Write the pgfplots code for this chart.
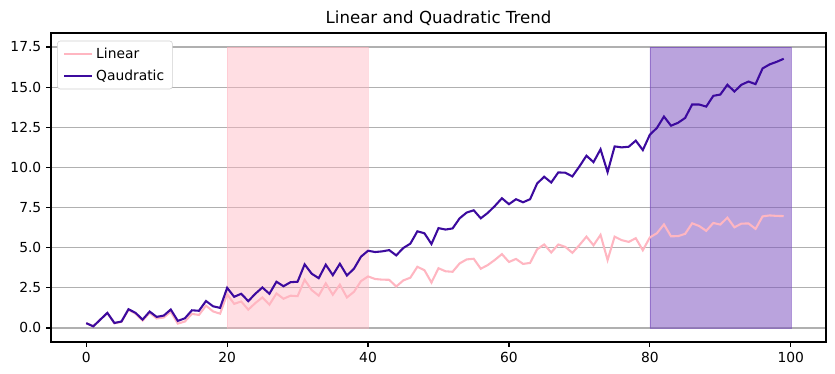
\documentclass[border=0pt]{standalone}
\usepackage{fontspec}
\setmainfont{DejaVu Sans}
\usepackage{pgfplots}
\pgfplotsset{compat=1.18}
\definecolor{linpink}{HTML}{FFB6C1}
\definecolor{quadpurple}{HTML}{3C0A9E}
\definecolor{spanpink}{HTML}{FFB6C1}
\definecolor{spanpurple}{HTML}{7A4FBE}
\definecolor{gridgray}{HTML}{B0B0B0}
\begin{document}
\begin{tikzpicture}
\begin{axis}[
  scale only axis,
  width=7.75in, height=3.09in,
  xmin=-5, xmax=105,
  ymin=-0.875, ymax=18.375,
  xtick={0,20,40,60,80,100},
  ytick={0,2.5,5,7.5,10,12.5,15,17.5},
  yticklabel style={/pgf/number format/.cd,fixed,fixed zerofill,precision=1},
  /pgf/number format/assume math mode=true,
  ymajorgrids,
  grid style={gridgray, line width=0.8pt},
  tick align=outside,
  tick pos=left,
  major tick length=3.5pt,
  tick style={black, line width=0.8pt},
  axis line style={line width=0.8pt},
  ticklabel style={font=\fontsize{10}{12}\selectfont},
  title={Linear and Quadratic Trend},
  title style={font=\fontsize{12}{14}\selectfont, yshift=-4pt},
  legend style={at={(0.008,0.975)}, anchor=north west, draw=gridgray!60, rounded corners=2pt,
    font=\fontsize{10}{12}\selectfont, inner xsep=4pt, inner ysep=3pt, row sep=2.5pt},
  legend image code/.code={\draw[#1] (0cm,0cm) -- (0.72cm,0cm);},
  legend cell align=left,
]
\addplot[fill=spanpink, fill opacity=0.45, draw=spanpink, draw opacity=0.45, forget plot]
  coordinates {(20,0) (40,0) (40,17.5) (20,17.5) (20,0)};
\addplot[fill=spanpurple, fill opacity=0.52, draw=spanpurple, draw opacity=0.6, forget plot]
  coordinates {(80,0) (100,0) (100,17.5) (80,17.5) (80,0)};
\addplot[linpink, line width=1.5pt] table {
x y
0 0.30
1 0.10
2 0.52
3 0.93
4 0.29
5 0.38
6 1.13
7 0.89
8 0.46
9 0.94
10 0.59
11 0.65
12 1.01
13 0.27
14 0.40
15 0.88
16 0.81
17 1.39
18 1.03
19 0.89
20 2.10
21 1.50
22 1.65
23 1.14
24 1.55
25 1.90
26 1.45
27 2.15
28 1.82
29 2.01
30 1.98
31 3.00
32 2.36
33 2.01
34 2.78
35 2.07
36 2.70
37 1.90
38 2.25
39 2.92
40 3.21
41 3.05
42 3.01
43 3.00
44 2.58
45 2.96
46 3.13
47 3.81
48 3.60
49 2.83
50 3.72
51 3.53
52 3.50
53 4.02
54 4.27
55 4.31
56 3.69
57 3.92
58 4.24
59 4.60
60 4.11
61 4.30
62 3.99
63 4.05
64 4.90
65 5.20
66 4.70
67 5.20
68 5.05
69 4.68
70 5.16
71 5.69
72 5.15
73 5.80
74 4.23
75 5.69
76 5.47
77 5.36
78 5.59
79 4.84
80 5.64
81 5.90
82 6.45
83 5.71
84 5.72
85 5.86
86 6.52
87 6.35
88 6.05
89 6.54
90 6.44
91 6.87
92 6.27
93 6.50
94 6.51
95 6.17
96 6.95
97 7.01
98 6.98
99 6.97
};
\addlegendentry{Linear}
\addplot[quadpurple, line width=1.5pt] table {
x y
0 0.30
1 0.10
2 0.52
3 0.94
4 0.31
5 0.40
6 1.17
7 0.94
8 0.52
9 1.02
10 0.69
11 0.77
12 1.15
13 0.44
14 0.60
15 1.10
16 1.07
17 1.68
18 1.35
19 1.25
20 2.50
21 1.94
22 2.13
23 1.67
24 2.13
25 2.52
26 2.13
27 2.88
28 2.60
29 2.85
30 2.88
31 3.96
32 3.38
33 3.10
34 3.94
35 3.29
36 4.00
37 3.27
38 3.69
39 4.44
40 4.81
41 4.73
42 4.77
43 4.85
44 4.52
45 4.98
46 5.25
47 6.02
48 5.90
49 5.23
50 6.22
51 6.13
52 6.20
53 6.83
54 7.19
55 7.33
56 6.83
57 7.17
58 7.60
59 8.08
60 7.71
61 8.02
62 7.83
63 8.02
64 9.00
65 9.42
66 9.06
67 9.69
68 9.67
69 9.44
70 10.06
71 10.73
72 10.33
73 11.13
74 9.71
75 11.31
76 11.25
77 11.29
78 11.67
79 11.08
80 12.04
81 12.46
82 13.17
83 12.60
84 12.78
85 13.08
86 13.92
87 13.92
88 13.79
89 14.46
90 14.54
91 15.15
92 14.73
93 15.15
94 15.35
95 15.19
96 16.17
97 16.42
98 16.58
99 16.77
};
\addlegendentry{Qaudratic}
\end{axis}
\pgfresetboundingbox
\path[use as bounding box] ([shift={(-0.51in,-0.32in)}]current axis.south west) rectangle ([shift={(0.09in,0.33in)}]current axis.north east);
\end{tikzpicture}
\end{document}
